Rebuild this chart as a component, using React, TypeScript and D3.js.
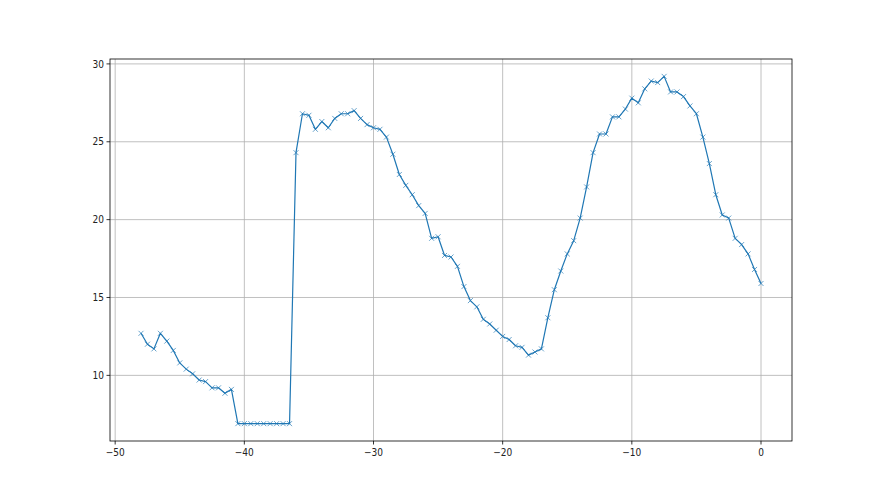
import React from 'react';
import * as d3 from 'd3';

// x values run from -48 to 0 in steps of 0.5
const xValues: number[] = d3.range(97).map(i => -48 + i * 0.5);

const yValues: number[] = [
  12.7, 12.0, 11.7, 12.7, 12.2, 11.6, 10.8, 10.4, 10.1, 9.7, 9.6, 9.2, 9.2, 8.85, 9.1,
  6.9, 6.9, 6.9, 6.9, 6.9, 6.9, 6.9, 6.9, 6.9,
  24.3, 26.8, 26.7, 25.8, 26.3, 25.9, 26.5, 26.8, 26.8, 27.0, 26.5, 26.1, 25.9, 25.8, 25.3,
  24.2, 22.9, 22.2, 21.6, 20.9, 20.4,
  18.8, 18.9, 17.7, 17.6, 17.0, 15.7, 14.8, 14.4, 13.6, 13.3, 12.9, 12.5, 12.3, 11.9, 11.8,
  11.3, 11.5, 11.7, 13.7, 15.5,
  16.7, 17.8, 18.65, 20.1, 22.1, 24.3, 25.5, 25.5, 26.6, 26.6, 27.1, 27.8, 27.5, 28.4, 28.9,
  28.8, 29.2, 28.2, 28.2, 27.9, 27.3, 26.8, 25.3, 23.6, 21.6, 20.3, 20.1, 18.8, 18.4, 17.8,
  16.8, 15.9,
];

const xTicks = [-50, -40, -30, -20, -10, 0];
const yTicks = [10, 15, 20, 25, 30];

const W = 880;
const H = 495;
const plot = { left: 110, right: 792, top: 59, bottom: 441 };
const lineColor = '#1f77b4';
const tickFont = "'Liberation Sans Narrow', 'DejaVu Sans Condensed', sans-serif";

const fmt = (v: number) => (v < 0 ? `\u2212${Math.abs(v)}` : `${v}`);

export default function App() {
  const xMin = d3.min(xValues) as number;
  const xMax = d3.max(xValues) as number;
  const yMin = d3.min(yValues) as number;
  const yMax = d3.max(yValues) as number;
  const xPad = (xMax - xMin) * 0.05;
  const yPad = (yMax - yMin) * 0.05;

  const x = d3.scaleLinear().domain([xMin - xPad, xMax + xPad]).range([plot.left, plot.right]);
  const y = d3.scaleLinear().domain([yMin - yPad, yMax + yPad]).range([plot.bottom, plot.top]);

  const pts = xValues.map((xv, i) => [xv, yValues[i]] as [number, number]);
  const line = d3.line<[number, number]>().x(d => x(d[0])).y(d => y(d[1]));
  const m = 2.5; // half marker size

  return (
    <svg width={W} height={H} style={{ position: 'absolute', left: 0, top: 0 }}>
      <rect x={0} y={0} width={W} height={H} fill="#fff" />
      {/* grid */}
      {xTicks.map(t => (
        <line key={`gx${t}`} x1={x(t)} x2={x(t)} y1={plot.top} y2={plot.bottom} stroke="#b0b0b0" strokeWidth={0.8} />
      ))}
      {yTicks.map(t => (
        <line key={`gy${t}`} x1={plot.left} x2={plot.right} y1={y(t)} y2={y(t)} stroke="#b0b0b0" strokeWidth={0.8} />
      ))}

      {/* series */}
      <path d={line(pts) || ''} fill="none" stroke={lineColor} strokeWidth={1.2} strokeLinejoin="round" />
      {pts.map((d, i) => {
        const cx = x(d[0]);
        const cy = y(d[1]);
        return (
          <path
            key={i}
            d={`M${cx - m},${cy - m}L${cx + m},${cy + m}M${cx - m},${cy + m}L${cx + m},${cy - m}`}
            stroke={lineColor}
            strokeWidth={0.8}
            strokeOpacity={0.85}
          />
        );
      })}

      {/* spines */}
      <rect
        x={plot.left}
        y={plot.top}
        width={plot.right - plot.left}
        height={plot.bottom - plot.top}
        fill="none"
        stroke="#000"
        strokeWidth={0.8}
      />

      {/* ticks */}
      {xTicks.map(t => (
        <g key={`tx${t}`}>
          <line x1={x(t)} x2={x(t)} y1={plot.bottom} y2={plot.bottom + 3.5} stroke="#000" strokeWidth={0.8} />
          <text x={x(t)} y={plot.bottom + 7} dy="0.76em" textAnchor="middle" fontFamily={tickFont} fontSize={10} fill="#222">
            {fmt(t)}
          </text>
        </g>
      ))}
      {yTicks.map(t => (
        <g key={`ty${t}`}>
          <line x1={plot.left - 3.5} x2={plot.left} y1={y(t)} y2={y(t)} stroke="#000" strokeWidth={0.8} />
          <text x={plot.left - 6} y={y(t)} dy="0.36em" textAnchor="end" fontFamily={tickFont} fontSize={10} fill="#222">
            {fmt(t)}
          </text>
        </g>
      ))}
    </svg>
  );
}
